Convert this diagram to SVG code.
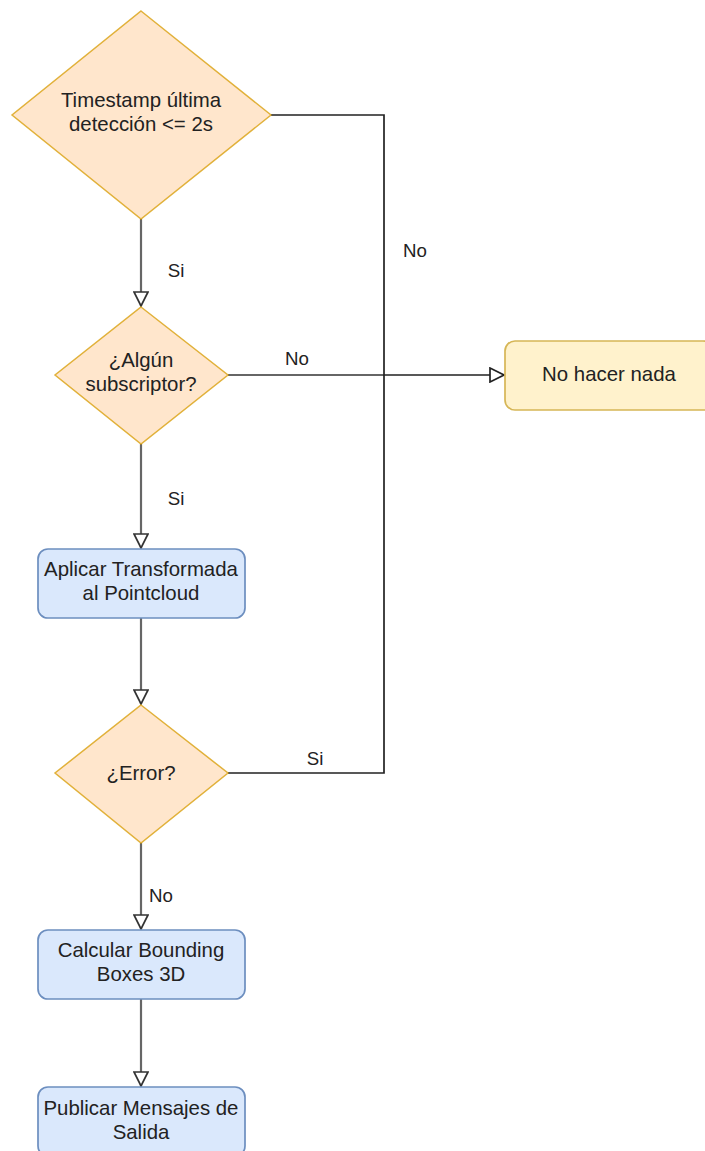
<svg xmlns="http://www.w3.org/2000/svg" width="705" height="1151" viewBox="0 0 705 1151">
<style>
.dec{fill:#ffe6cc;stroke:#d79b00;stroke-width:1.5;stroke-opacity:0.75}
.proc{fill:#dae8fc;stroke:#6c8ebf;stroke-width:1.7}
.warn{fill:#fff2cc;stroke:#d6b656;stroke-width:1.7}
.t{font-family:"Liberation Sans",Arial,sans-serif;font-size:20.4px;fill:#222;text-anchor:middle}
.lbl{font-family:"Liberation Sans",Arial,sans-serif;font-size:18.7px;fill:#222;text-anchor:middle}
.c{fill:none;stroke:#666;stroke-width:2.2}
.cd{fill:none;stroke:#222;stroke-width:1.7}
</style>
<defs>
<marker id="ag" viewBox="0 0 16 16" refX="15" refY="8" markerWidth="16" markerHeight="16" markerUnits="userSpaceOnUse" orient="auto">
<path d="M1,1 L15,8 L1,15 Z" fill="#fff" stroke="#333" stroke-width="1.7"/>
</marker>
<marker id="ad" viewBox="0 0 16 16" refX="15" refY="8" markerWidth="16" markerHeight="16" markerUnits="userSpaceOnUse" orient="auto">
<path d="M1,1 L15,8 L1,15 Z" fill="#fff" stroke="#222" stroke-width="1.7"/>
</marker>
</defs>
<g id="connectors">
<path class="c" d="M141,219 L141,306" marker-end="url(#ag)"/>
<path class="c" d="M141,444 L141,548" marker-end="url(#ag)"/>
<path class="c" d="M141,618 L141,704" marker-end="url(#ag)"/>
<path class="c" d="M141,843 L141,929" marker-end="url(#ag)"/>
<path class="c" d="M141,999 L141,1086" marker-end="url(#ag)"/>
<path class="c" d="M228,375 L384,375"/>
<path class="cd" d="M271,115 L384,115 L384,375 L504,375" marker-end="url(#ad)"/>
<path class="cd" d="M228,773 L384,773 L384,375"/>
<text class="lbl" x="176" y="277">Si</text>
<text class="lbl" x="415" y="257">No</text>
<text class="lbl" x="297" y="365">No</text>
<text class="lbl" x="176" y="505">Si</text>
<text class="lbl" x="315" y="765">Si</text>
<text class="lbl" x="161" y="902">No</text>
</g>
<g id="n-timestamp">
<polygon class="dec" points="141,11 271,115 141,219 12,115"/>
<text class="t" x="141" y="107">Timestamp última</text>
<text class="t" x="141" y="131">detección &lt;= 2s</text>
</g>
<g id="n-subscriptor">
<polygon class="dec" points="141,307 228,375 141,444 55,375"/>
<text class="t" x="141" y="367">¿Algún</text>
<text class="t" x="141" y="391">subscriptor?</text>
</g>
<g id="n-nada">
<rect class="warn" x="505" y="341" width="208" height="69" rx="10"/>
<text class="t" x="609" y="381">No hacer nada</text>
</g>
<g id="n-aplicar">
<rect class="proc" x="38" y="549" width="207" height="69" rx="10"/>
<text class="t" x="141" y="576">Aplicar Transformada</text>
<text class="t" x="141" y="600">al Pointcloud</text>
</g>
<g id="n-error">
<polygon class="dec" points="141,705 228,773 141,843 55,773"/>
<text class="t" x="141" y="780">¿Error?</text>
</g>
<g id="n-calcular">
<rect class="proc" x="38" y="930" width="207" height="69" rx="10"/>
<text class="t" x="141" y="957">Calcular Bounding</text>
<text class="t" x="141" y="981">Boxes 3D</text>
</g>
<g id="n-publicar">
<rect class="proc" x="38" y="1087" width="207" height="69" rx="10"/>
<text class="t" x="141" y="1115">Publicar Mensajes de</text>
<text class="t" x="141" y="1139">Salida</text>
</g>
</svg>
